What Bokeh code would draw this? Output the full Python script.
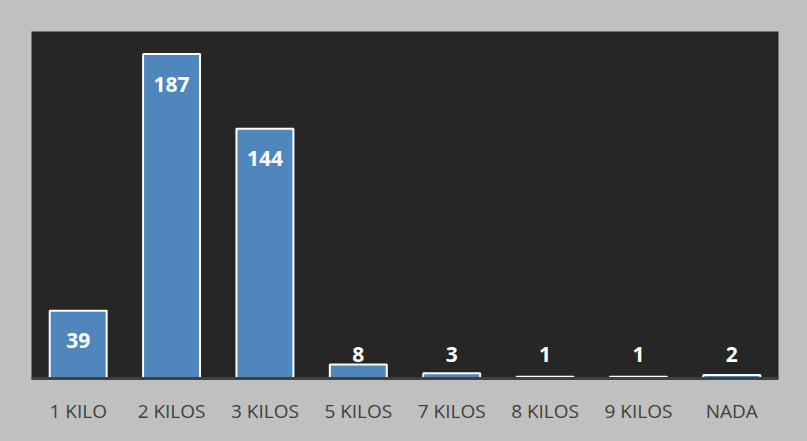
from bokeh.plotting import figure
from bokeh.models import ColumnDataSource, FactorRange, Range1d
from bokeh.embed import file_html
from bokeh.resources import INLINE
from bokeh.core.properties import value

categories = ["1 KILO", "2 KILOS", "3 KILOS", "5 KILOS", "7 KILOS", "8 KILOS", "9 KILOS", "NADA"]
counts = [39, 187, 144, 8, 3, 1, 1, 2]

label_y = [v - 17.3 if v > 20 else 13.8 for v in counts]
labels = [str(v) for v in counts]

src = ColumnDataSource(dict(cat=categories, v=counts, ly=label_y, lab=labels))

p = figure(x_range=FactorRange(*categories, range_padding=0), y_range=Range1d(0, 200),
           width=807, height=441, output_backend="svg", toolbar_location=None,
           min_border_left=31, min_border_right=29, min_border_top=31, min_border_bottom=63)
p.background_fill_color = "#262626"
p.border_fill_color = "#c0c0c0"
p.outline_line_color = None
p.grid.visible = False
p.yaxis.visible = False

p.vbar(x="cat", top="v", width=0.61, source=src, fill_color="#4f86bc",
       line_color="white", line_width=2)
p.text(x="cat", y="ly", text="lab", source=src, text_align="center", text_baseline="middle",
       text_color="white", text_font=value("Open Sans"), text_font_style="bold",
       text_font_size="21px")

ax = p.xaxis[0]
ax.axis_line_color = "#404040"
ax.axis_line_width = 3
ax.major_tick_line_color = None
ax.minor_tick_line_color = None
ax.major_label_text_font = "Open Sans"
ax.major_label_text_font_size = "19px"
ax.major_label_text_color = "#404040"
ax.major_label_standoff = 13

html = file_html(p, INLINE)
html = html.replace("<head>", "<head><style>body{background:#c0c0c0;margin:0;}</style>", 1)
open("out.html", "w").write(html)
